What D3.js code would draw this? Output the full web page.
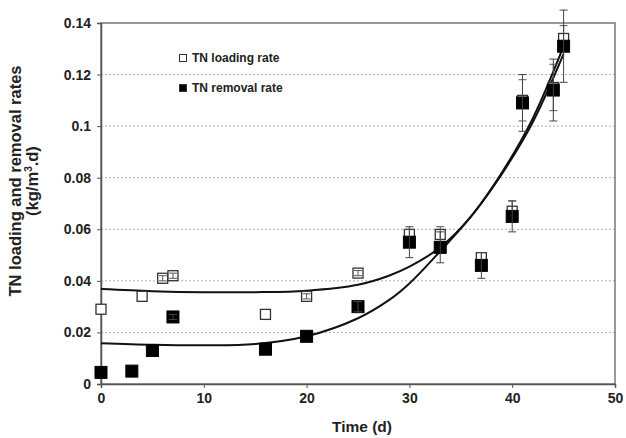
<!DOCTYPE html>
<html>
<head>
<meta charset="utf-8">
<script src="https://cdn.jsdelivr.net/npm/d3@7"></script>
<style>
  body { margin: 0; background: #fff; }
  svg { font-family: 'Liberation Sans', Arial, sans-serif; }
</style>
</head>
<body>
<div id="chart"></div>
<script>
// measured points
const days = [0, 4, 6, 7, 16, 20, 25, 30, 33, 37, 40, 41, 44, 45]
const loadingRate = [0.029, 0.034, 0.041, 0.042, 0.027, 0.034, 0.043, 0.058, 0.058, 0.049, 0.067, 0.110, 0.115, 0.134]
const loadingErr = [0, 0, 0.001, 0.001, 0, 0.001, 0.001, 0.002, 0.003, 0.002, 0.004, 0.008, 0.009, 0.005]

const removalDays = [0, 3, 5, 7, 16, 20, 25, 30, 33, 37, 40, 41, 44, 45]
const removalRate = [0.0045, 0.005, 0.013, 0.026, 0.0135, 0.0185, 0.030, 0.055, 0.053, 0.046, 0.065, 0.109, 0.114, 0.131]
const removalErr = [0, 0, 0, 0.001, 0, 0, 0.002, 0.006, 0.006, 0.005, 0.006, 0.011, 0.012, 0.014]

// trend lines
const fitDays = [0, 5, 10, 15, 20, 25, 28, 30, 33, 36, 39, 42, 45]
const loadingFit = [0.0368, 0.0360, 0.0356, 0.0356, 0.0362, 0.0385, 0.0420, 0.0455, 0.0530, 0.0650, 0.0820, 0.1030, 0.1310]
const removalFit = [0.0158, 0.0152, 0.0150, 0.0155, 0.0185, 0.0255, 0.0325, 0.0390, 0.0515, 0.0650, 0.0815, 0.1015, 0.1280]

const xTicks = [0, 10, 20, 30, 40, 50]
const yTicks = [0, 0.02, 0.04, 0.06, 0.08, 0.1, 0.12, 0.14]

const width = 626
const height = 438

const svg = d3.select('#chart').append('svg')
    .attr('width', width)
    .attr('height', height)

const x = d3.scaleLinear().domain([0, 50]).range([101, 615])
const y = d3.scaleLinear().domain([0, 0.14]).range([384, 23])

// dashed grid
svg.append('g')
  .selectAll('line')
  .data(yTicks.slice(1, -1)).enter()
  .append('line')
    .attr('x1', x(0)).attr('x2', x(50))
    .attr('y1', d => y(d)).attr('y2', d => y(d))
    .attr('stroke', '#9a9a9a')
    .attr('stroke-width', 0.8)
    .attr('stroke-dasharray', '2,2')

// frame
svg.append('rect')
    .attr('x', x(0)).attr('y', y(0.14))
    .attr('width', x(50) - x(0))
    .attr('height', y(0) - y(0.14))
    .attr('fill', 'none')
    .attr('stroke', '#777')
    .attr('stroke-width', 1.5)

const xAxis = d3.axisBottom(x).tickValues(xTicks).tickFormat(d3.format('d')).tickSize(4).tickPadding(5)
const yAxis = d3.axisLeft(y).tickValues(yTicks).tickFormat(d => d === 0 ? '0' : String(+d.toFixed(2))).tickSize(4).tickPadding(6)

const xg = svg.append('g')
    .attr('transform', `translate(0, ${y(0)})`)
    .call(xAxis)
const yg = svg.append('g')
    .attr('transform', `translate(${x(0)}, 0)`)
    .call(yAxis)

;[xg, yg].forEach(g => {
  g.select('.domain').attr('stroke', '#555').attr('stroke-width', 1.5)
  g.selectAll('.tick line').attr('stroke', '#555')
  g.selectAll('text')
      .attr('font-size', 14)
      .attr('font-weight', 'bold')
      .attr('fill', '#222')
      .style('font-family', "'Liberation Sans', Arial, sans-serif")
})

// axis titles
svg.append('text')
    .attr('x', (x(0) + x(50)) / 2 + 4)
    .attr('y', 432)
    .attr('text-anchor', 'middle')
    .attr('font-size', 15.5)
    .attr('font-weight', 'bold')
    .attr('fill', '#222')
    .text('Time (d)')

const yTitle = svg.append('text')
    .attr('transform', 'translate(21, 181) rotate(-90)')
    .attr('text-anchor', 'middle')
    .attr('font-size', 16.5)
    .attr('font-weight', 'bold')
    .attr('fill', '#222')
yTitle.append('tspan').attr('x', 0).attr('dy', 0).text('TN loading and removal rates')
const unit = yTitle.append('tspan').attr('x', 0).attr('dy', 17).text('(kg/m')
unit.append('tspan').attr('font-size', 10).attr('dy', -6).text('3')
yTitle.append('tspan').attr('dy', 6).text('.d)')

// fitted curves
const line = d3.line()
    .x(d => x(d[0]))
    .y(d => y(d[1]))
    .curve(d3.curveCatmullRom.alpha(0.5))

;[loadingFit, removalFit].forEach(fit => {
  svg.append('path')
      .datum(fitDays.map((d, i) => [d, fit[i]]))
      .attr('d', line)
      .attr('fill', 'none')
      .attr('stroke', '#111')
      .attr('stroke-width', 2)
})

function drawSeries(xs, vals, errs, filled) {
  const pts = xs.map((d, i) => ({ t: d, v: vals[i], e: errs[i] }))
  const size = filled ? 12 : 10
  const g = svg.append('g')

  g.selectAll('rect')
      .data(pts).enter()
    .append('rect')
      .attr('x', d => x(d.t) - size / 2)
      .attr('y', d => y(d.v) - size / 2)
      .attr('width', size)
      .attr('height', size)
      .attr('fill', filled ? '#000' : '#fff')
      .attr('stroke', filled ? '#000' : '#333')
      .attr('stroke-width', filled ? 1 : 1.3)

  // error bars go on top of the markers
  const eb = g.selectAll('g.err')
      .data(pts.filter(d => d.e > 0)).enter()
    .append('g')
      .classed('err', true)
      .attr('stroke', filled ? '#444' : '#555')
      .attr('stroke-width', 1)

  eb.append('line')
      .attr('x1', d => x(d.t)).attr('x2', d => x(d.t))
      .attr('y1', d => y(d.v - d.e)).attr('y2', d => y(d.v + d.e))
  eb.append('line')
      .attr('x1', d => x(d.t) - 4).attr('x2', d => x(d.t) + 4)
      .attr('y1', d => y(d.v + d.e)).attr('y2', d => y(d.v + d.e))
  eb.append('line')
      .attr('x1', d => x(d.t) - 4).attr('x2', d => x(d.t) + 4)
      .attr('y1', d => y(d.v - d.e)).attr('y2', d => y(d.v - d.e))
}

drawSeries(days, loadingRate, loadingErr, false)
drawSeries(removalDays, removalRate, removalErr, true)

// legend
const legend = svg.append('g').attr('transform', 'translate(183, 58)')
const legendItems = [
  { label: 'TN loading rate', filled: false },
  { label: 'TN removal rate', filled: true }
]
legendItems.forEach((item, i) => {
  const row = legend.append('g').attr('transform', `translate(0, ${i * 30})`)
  row.append('rect')
      .attr('x', -3.5).attr('y', -3.5)
      .attr('width', 7).attr('height', 7)
      .attr('fill', item.filled ? '#000' : '#fff')
      .attr('stroke', '#333')
  row.append('text')
      .attr('x', 9).attr('y', 4)
      .attr('font-size', 12)
      .attr('font-weight', 'bold')
      .attr('fill', '#222')
      .text(item.label)
})
</script>
</body>
</html>
